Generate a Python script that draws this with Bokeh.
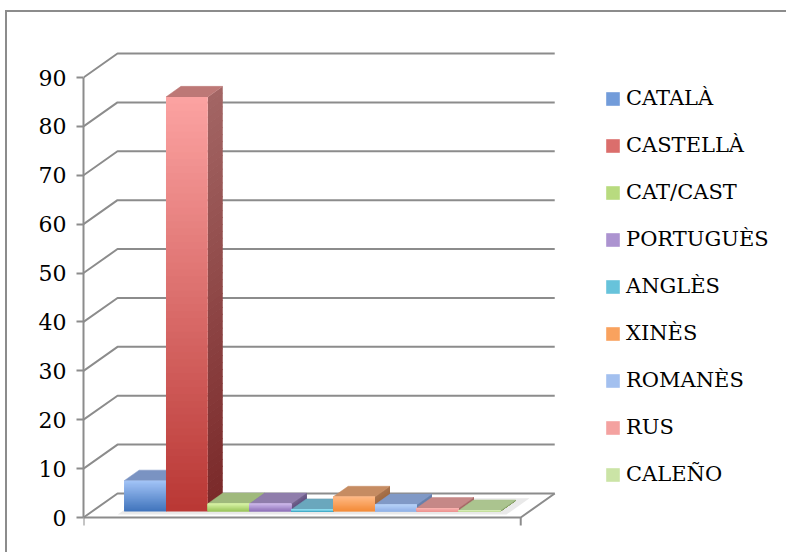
import numpy as np
from bokeh.plotting import figure
from bokeh.models import Range1d, FixedTicker, Legend, LegendItem
from bokeh.embed import file_html
from bokeh.resources import INLINE

# ---------------- data ----------------
languages = ["CATALÀ", "CASTELLÀ", "CAT/CAST", "PORTUGUÈS", "ANGLÈS",
             "XINÈS", "ROMANÈS", "RUS", "CALEÑO"]
percent = [6.3, 84.8, 1.6, 1.6, 0.4, 3.0, 1.4, 0.7, 0.2]
y_ticks = [0, 10, 20, 30, 40, 50, 60, 70, 80, 90]

# ---------------- styles ----------------
front_top = ["#a3c4f7", "#fca3a2", "#d8f3a6", "#cdb8ea", "#93e0f3",
             "#ffb985", "#b6d0f8", "#fbb3b1", "#dcf0bd"]
front_bottom = ["#3f73bb", "#b93734", "#96c256", "#8a6db5", "#3aa5c3",
                "#f38a36", "#8fb0e6", "#ec908e", "#b9d88e"]
top_face = ["#7a93c2", "#bd7876", "#9fb97c", "#8f7dab", "#6aa7bd",
            "#c68c62", "#8099c6", "#c68887", "#abc48f"]
side_top = ["#6d87b5", "#a36665", "#86a063", "#76678f", "#568da0",
            "#a97550", "#6e86b0", "#ad7372", "#92ab77"]
side_bottom = ["#2f5a94", "#7a2828", "#6f8c44", "#5c4a7c", "#3f7a8e",
               "#9b6236", "#5f78a5", "#9c5f5e", "#849e66"]
GRID = "#8c8c8c"
FONT = "DejaVu Serif"

# ---------------- layout (pixels) ----------------
W, H = 781, 542            # canvas size
LEFT = 76                  # frame left (y axis position)
ZERO_FROM_BOTTOM = 37      # px from canvas bottom to the front 0 line
PX_CAT = 41.8              # px per category (bar width)
PX_VAL = 440 / 90          # px per value unit
X_MIN, X_MAX = -0.77, 9.69 # floor extent in category units
DEPTH_X = 34 / PX_CAT      # full depth offset in data units
DEPTH_Y = 24 / PX_VAL
ZF, ZB = 0.25, 0.69        # bar front / back depth
N = 60                     # gradient slices
OVER = 0.8 / PX_VAL        # slice overlap to hide seams


def hex2rgb(h):
    h = h.lstrip("#")
    return np.array([int(h[i:i + 2], 16) for i in (0, 2, 4)], dtype=float)


def mix(c0, c1, t):
    c = hex2rgb(c0) * (1 - t) + hex2rgb(c1) * t
    return "#%02x%02x%02x" % tuple(int(round(v)) for v in c)


def px(x, z):
    return x + z * DEPTH_X


def py(y, z):
    return y + z * DEPTH_Y


y_start = -ZERO_FROM_BOTTOM / PX_VAL
p = figure(width=W, height=H, output_backend="svg", toolbar_location=None,
           x_range=Range1d(X_MIN, X_MIN + (W - LEFT) / PX_CAT),
           y_range=Range1d(y_start, y_start + H / PX_VAL),
           x_axis_location=None, y_axis_location="left",
           min_border_left=LEFT, min_border_right=0, min_border_top=0,
           min_border_bottom=0, background_fill_color="white",
           border_fill_color="white", outline_line_color=None,
           margin=(10, 0, 0, 5),
           styles={"border-left": "2px solid #8c8c8c",
                   "border-top": "2px solid #8c8c8c"})
p.grid.visible = False

# ---------- walls / gridlines ----------
gx, gy = [], []
for v in y_ticks:
    gx.append([px(X_MIN, 0), px(X_MIN, 1), px(X_MAX, 1)])
    gy.append([py(v, 0), py(v, 1), py(v, 1)])
gx.append([px(X_MIN, 0), px(X_MAX, 0), px(X_MAX, 1)])
gy.append([py(0, 0), py(0, 0), py(0, 1)])
p.multi_line(gx, gy, line_color=GRID, line_width=2)

# category axis end ticks
tick_len = 8 / PX_VAL
p.segment(x0=[X_MIN, X_MAX], y0=[0, 0], x1=[X_MIN, X_MAX], y1=[-tick_len, -tick_len],
          line_color=GRID, line_width=2)

# floor shadow
n_bars = len(percent)
sh_x = [px(-0.05, 0.12), px(n_bars + 0.25, 0.12), px(n_bars + 0.25, 0.8), px(-0.05, 0.8)]
sh_y = [py(0, 0.12), py(0, 0.12), py(0, 0.8), py(0, 0.8)]
p.patch(sh_x, sh_y, fill_color="#e9e9e9", line_color=None)

# ---------- bars ----------
side_xs, side_ys, side_c = [], [], []
top_xs, top_ys, top_c = [], [], []
fl, fr, fb, ft, fc = [], [], [], [], []
legend_index = []
for i, v in enumerate(percent):
    for k in range(N):
        y0 = v * k / N
        y1 = min(v * (k + 1) / N + OVER, v)
        t = (k + 0.5) / N
        side_xs.append([px(i + 1, ZF), px(i + 1, ZB), px(i + 1, ZB), px(i + 1, ZF)])
        side_ys.append([py(y0, ZF), py(y0, ZB), py(y1, ZB), py(y1, ZF)])
        side_c.append(mix(side_bottom[i], side_top[i], t))
        fl.append(px(i, ZF)); fr.append(px(i + 1, ZF))
        fb.append(py(y0, ZF)); ft.append(py(y1, ZF))
        fc.append(mix(front_bottom[i], front_top[i], t))
    legend_index.append(i * N + N // 2)
    top_xs.append([px(i, ZF), px(i + 1, ZF), px(i + 1, ZB), px(i, ZB)])
    top_ys.append([py(v, ZF), py(v, ZF), py(v, ZB), py(v, ZB)])
    top_c.append(top_face[i])

p.patches(side_xs, side_ys, fill_color=side_c, line_color=None)
p.patches(top_xs, top_ys, fill_color=top_c, line_color=top_c, line_width=0.5)
front = p.quad(left=fl, right=fr, bottom=fb, top=ft, fill_color=fc, line_color=None)

# ---------- y axis ----------
ax = p.yaxis[0]
ax.ticker = FixedTicker(ticks=y_ticks)
ax.bounds = (0, 90)
ax.axis_line_color = GRID
ax.axis_line_width = 2
ax.major_tick_line_color = GRID
ax.major_tick_line_width = 2
ax.major_tick_out = 7
ax.major_tick_in = 0
ax.minor_tick_line_color = None
ax.major_label_standoff = 10
ax.major_label_text_font = FONT
ax.major_label_text_font_size = "22px"
ax.major_label_text_color = "black"

# ---------- legend ----------
items = [LegendItem(label=lang, renderers=[front], index=legend_index[i])
         for i, lang in enumerate(languages)]
legend = Legend(items=items, location=(521, 68), orientation="vertical",
                glyph_width=17, glyph_height=17, label_standoff=5,
                label_text_font=FONT, label_text_font_size="21px",
                label_text_color="black", spacing=23, padding=0, margin=0,
                border_line_color=None, background_fill_alpha=0)
p.add_layout(legend)

open("out.html", "w").write(file_html(p, INLINE))
